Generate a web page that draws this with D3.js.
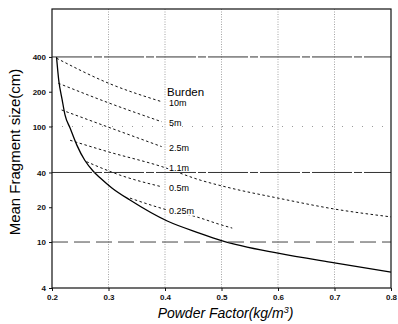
<!DOCTYPE html>
<html>
<head>
<meta charset="utf-8">
<script src="https://cdn.jsdelivr.net/npm/d3@7"></script>
<style>
  body { margin: 0; background: #fff; }
  svg { display: block; }
  text { font-family: "Liberation Sans", Arial, sans-serif; }
</style>
</head>
<body>
<div id="chart"></div>
<script>
// values
const xTicks = [0.2, 0.3, 0.4, 0.5, 0.6, 0.7, 0.8];
const yTicks = [4, 10, 20, 40, 100, 200, 400];

// solid curve
const solidPF   = [0.208, 0.212, 0.218, 0.223, 0.232, 0.244, 0.258, 0.273, 0.285, 0.306, 0.338, 0.404, 0.462, 0.5, 0.6, 0.7, 0.8];
const solidSize = [400, 250, 170, 126, 97, 69, 51, 41, 36, 29.4, 23.1, 15.2, 11.9, 10.3, 8, 6.6, 5.5];

// dotted burden curves
const burdenLabels = ["10m", "5m", "2.5m", "1.1m", "0.5m", "0.25m"];
const burdenPF = [
  [0.208, 0.300, 0.394],
  [0.211, 0.299, 0.394],
  [0.217, 0.299, 0.394],
  [0.232, 0.299, 0.394, 0.462, 0.515, 0.6, 0.7, 0.8],
  [0.261, 0.320, 0.394],
  [0.338, 0.400, 0.456, 0.497, 0.519]
];
const burdenSize = [
  [390, 237, 164],
  [237, 161, 110],
  [139, 99, 67],
  [76, 60.5, 45, 34.4, 29.4, 24, 19.3, 16.5],
  [49.6, 38, 30.1],
  [24, 19.2, 16.5, 14.2, 13.2]
];

const width = 398, height = 324;
const margin = {top: 9, right: 7, bottom: 36, left: 52};

const svg = d3.select("#chart")
  .append("svg")
    .attr("width", width)
    .attr("height", height);

const x = d3.scaleLinear()
  .domain([0.2, 0.8])
  .range([margin.left, width - margin.right]);

const y = d3.scaleLog()
  .domain([4, 1040])
  .range([height - margin.bottom, margin.top]);

// vertical dotted grid
svg.append("g")
  .selectAll("line")
  .data(xTicks.slice(1, -1))
  .join("line")
    .attr("x1", d => x(d)).attr("x2", d => x(d))
    .attr("y1", margin.top).attr("y2", height - margin.bottom)
    .attr("stroke", "#8c8c8c")
    .attr("stroke-width", 0.8)
    .attr("stroke-dasharray", "1,1.5");

// lines
const line = d3.line()
  .x(d => x(d[0]))
  .y(d => y(d[1]))
  .curve(d3.curveMonotoneX);

svg.append("path")
  .datum(solidPF.map((v, i) => [v, solidSize[i]]))
  .attr("d", line)
  .attr("fill", "none")
  .attr("stroke", "#000")
  .attr("stroke-width", 1.3);

const series = burdenLabels.map((label, i) => ({
  label: label,
  pts: burdenPF[i].map((v, j) => [v, burdenSize[i][j]])
}));

svg.append("g")
  .selectAll("path")
  .data(series)
  .join("path")
    .attr("d", d => line(d.pts))
    .attr("fill", "none")
    .attr("stroke", "#111")
    .attr("stroke-width", 1)
    .attr("stroke-dasharray", "2.5,2.5");

// labels sit at PF = 0.4 over the curve
const labelX = x(0.4) + 4;
svg.append("g")
  .selectAll("text")
  .data(series)
  .join("text")
    .attr("x", labelX)
    .attr("y", d => {
      const p = d.pts.reduce((a, b) => Math.abs(b[0] - 0.4) < Math.abs(a[0] - 0.4) ? b : a);
      return y(p[1]) + 1.5;
    })
    .attr("dy", "0.35em")
    .attr("font-size", 9)
    .attr("fill", "#000")
    .attr("stroke", "#fff")
    .attr("stroke-width", 3)
    .attr("paint-order", "stroke")
    .text(d => d.label);

svg.append("text")
  .attr("x", labelX - 2)
  .attr("y", y(burdenSize[0][2]) - 10)
  .attr("dy", "0.35em")
  .attr("font-size", 11.5)
  .text("Burden");

// horizontal grid
const hGrid = [
  {v: 400, dash: "40,2,8,2", color: "#333"},
  {v: 100, dash: "1,9",      color: "#999"},
  {v: 40,  dash: "40,2,8,2", color: "#333"},
  {v: 10,  dash: "16,6",     color: "#444"}
];
svg.append("g")
  .selectAll("line")
  .data(hGrid)
  .join("line")
    .attr("x1", margin.left).attr("x2", width - margin.right)
    .attr("y1", d => y(d.v)).attr("y2", d => y(d.v))
    .attr("stroke", d => d.color)
    .attr("stroke-width", 1)
    .attr("stroke-dasharray", d => d.dash);

// frame
svg.append("rect")
  .attr("x", margin.left).attr("y", margin.top)
  .attr("width", width - margin.left - margin.right)
  .attr("height", height - margin.top - margin.bottom)
  .attr("fill", "none")
  .attr("stroke", "#111")
  .attr("stroke-width", 1.2);

// axes
const yAxis = svg.append("g")
  .attr("transform", `translate(${margin.left},0)`)
  .call(d3.axisLeft(y).tickValues(yTicks).tickSize(3).tickPadding(3).tickFormat(d3.format("d")));

const xAxis = svg.append("g")
  .attr("transform", `translate(0,${height - margin.bottom})`)
  .call(d3.axisBottom(x).tickValues(xTicks).tickSize(3).tickPadding(3).tickFormat(d3.format(".1f")));

[yAxis, xAxis].forEach(g => {
  g.select(".domain").remove();
  g.selectAll("text").attr("font-size", 8).attr("font-weight", "bold").attr("fill", "#111")
    .style("font-family", "'Liberation Sans', Arial, sans-serif");
  g.selectAll("line").attr("stroke", "#111");
});

// titles
const xTitle = svg.append("text")
  .attr("x", (margin.left + width - margin.right) / 2 + 4)
  .attr("y", 318)
  .attr("text-anchor", "middle")
  .attr("font-size", 14)
  .attr("font-style", "italic");
xTitle.append("tspan").text("Powder Factor(kg/m");
xTitle.append("tspan").attr("font-size", 9).attr("dy", -5).text("3");
xTitle.append("tspan").attr("dy", 5).text(")");

svg.append("text")
  .attr("transform", "translate(15,152) rotate(-90)")
  .attr("text-anchor", "middle")
  .attr("dy", "0.35em")
  .attr("font-size", 15)
  .text("Mean Fragment size(cm)");
</script>
</body>
</html>
